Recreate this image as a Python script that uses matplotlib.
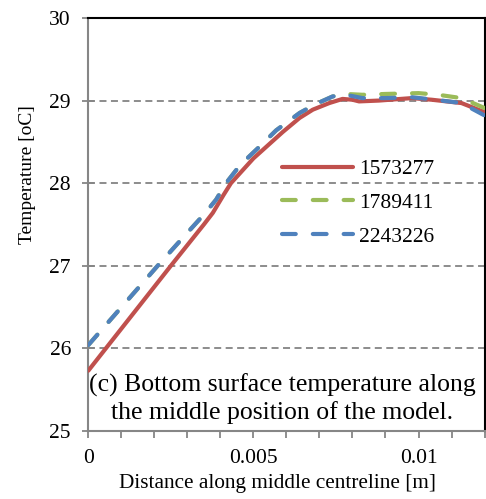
import matplotlib
matplotlib.use("Agg")
import matplotlib.pyplot as plt
from matplotlib.ticker import MultipleLocator

# data
x_1573277 = [0.0, 0.00185, 0.0025, 0.0031, 0.0035, 0.00377, 0.0041, 0.00432, 0.005,
             0.00589, 0.0064, 0.0068, 0.0073, 0.0077, 0.008, 0.0082, 0.0088, 0.0098,
             0.0104, 0.0113, 0.012]
t_1573277 = [25.73, 26.67, 27.0, 27.3, 27.5, 27.64, 27.86, 28.0, 28.3,
             28.62, 28.79, 28.89, 28.97, 29.02, 29.01, 28.99, 29.0, 29.03,
             29.01, 28.97, 28.86]

x_1789411 = [0.0, 0.0021, 0.003, 0.0035, 0.00387, 0.00417, 0.0046, 0.00518, 0.00569,
             0.0064, 0.0069, 0.0074, 0.0078, 0.0083, 0.009, 0.01, 0.0106, 0.0113, 0.012]
t_1789411 = [26.04, 27.0, 27.4, 27.62, 27.8, 28.0, 28.22, 28.44, 28.64,
             28.85, 28.96, 29.05, 29.08, 29.07, 29.08, 29.09, 29.07, 29.03, 28.91]

x_2243226 = [0.0, 0.0021, 0.003, 0.0035, 0.00387, 0.00417, 0.0046, 0.00518, 0.00569,
             0.0064, 0.0069, 0.0074, 0.0078, 0.0083, 0.009, 0.0098, 0.0105, 0.0113, 0.012]
t_2243226 = [26.04, 27.0, 27.4, 27.62, 27.8, 28.0, 28.22, 28.44, 28.64,
             28.85, 28.96, 29.05, 29.07, 29.03, 29.03, 29.04, 29.01, 28.97, 28.82]

plt.rcParams["font.family"] = ["Liberation Serif", "DejaVu Serif"]

fig = plt.figure(figsize=(4.86, 4.99), dpi=100)
ax = fig.add_axes([0.1817, 0.1363, 0.8153, 0.8277])

ax.plot(x_1573277, t_1573277, color="#C0504D", lw=3.0, label="1573277",
        solid_capstyle="round", zorder=3)
ax.plot(x_1789411, t_1789411, color="#9BBB59", lw=3.0, dashes=(3.3, 4.1),
        dash_capstyle="round", label="1789411", zorder=4)
ax.plot(x_2243226, t_2243226, color="#4F81BD", lw=3.0, dashes=(3.3, 4.1),
        dash_capstyle="round", label="2243226", zorder=5)

ax.set_xlim(0, 0.012)
ax.set_ylim(25, 30)
ax.set_xticks([0, 0.005, 0.01])
ax.set_xticklabels(["0", "0.005", "0.01"])
ax.xaxis.set_minor_locator(MultipleLocator(0.001))
ax.yaxis.set_major_locator(MultipleLocator(1))

ax.grid(axis="y", color="#8c8c8c", ls=(0, (3.6, 2.3)), lw=1.4)
ax.set_axisbelow(True)

for s in ("left", "bottom"):
    ax.spines[s].set_color("#868686")
    ax.spines[s].set_linewidth(1.5)
for s in ("top", "right"):
    ax.spines[s].set_color("black")
    ax.spines[s].set_linewidth(1.5)

ax.tick_params(axis="both", which="both", color="#868686", width=1.3, labelsize=15.5)
ax.tick_params(axis="x", which="both", direction="out", length=5, pad=8)
ax.tick_params(axis="y", which="major", direction="inout", length=9, pad=8)

ax.set_xlabel("Distance along middle centreline [m]", fontsize=15.3)
ax.xaxis.set_label_coords(0.477, -0.105)
ax.set_ylabel("Temperature [oC]", fontsize=14)
ax.yaxis.set_label_coords(-0.131, 0.62)

leg = ax.legend(loc="center left", bbox_to_anchor=(0.488, 0.552), frameon=False,
                fontsize=15.5, handlelength=3.3, labelspacing=0.64,
                handletextpad=0.3, borderaxespad=0, borderpad=0)

ax.text(0.49, 0.079, "(c) Bottom surface temperature along\nthe middle position of the model.",
        transform=ax.transAxes, ha="center", va="center", fontsize=18.5,
        linespacing=1.22)

fig.savefig("out.png", dpi=100)
